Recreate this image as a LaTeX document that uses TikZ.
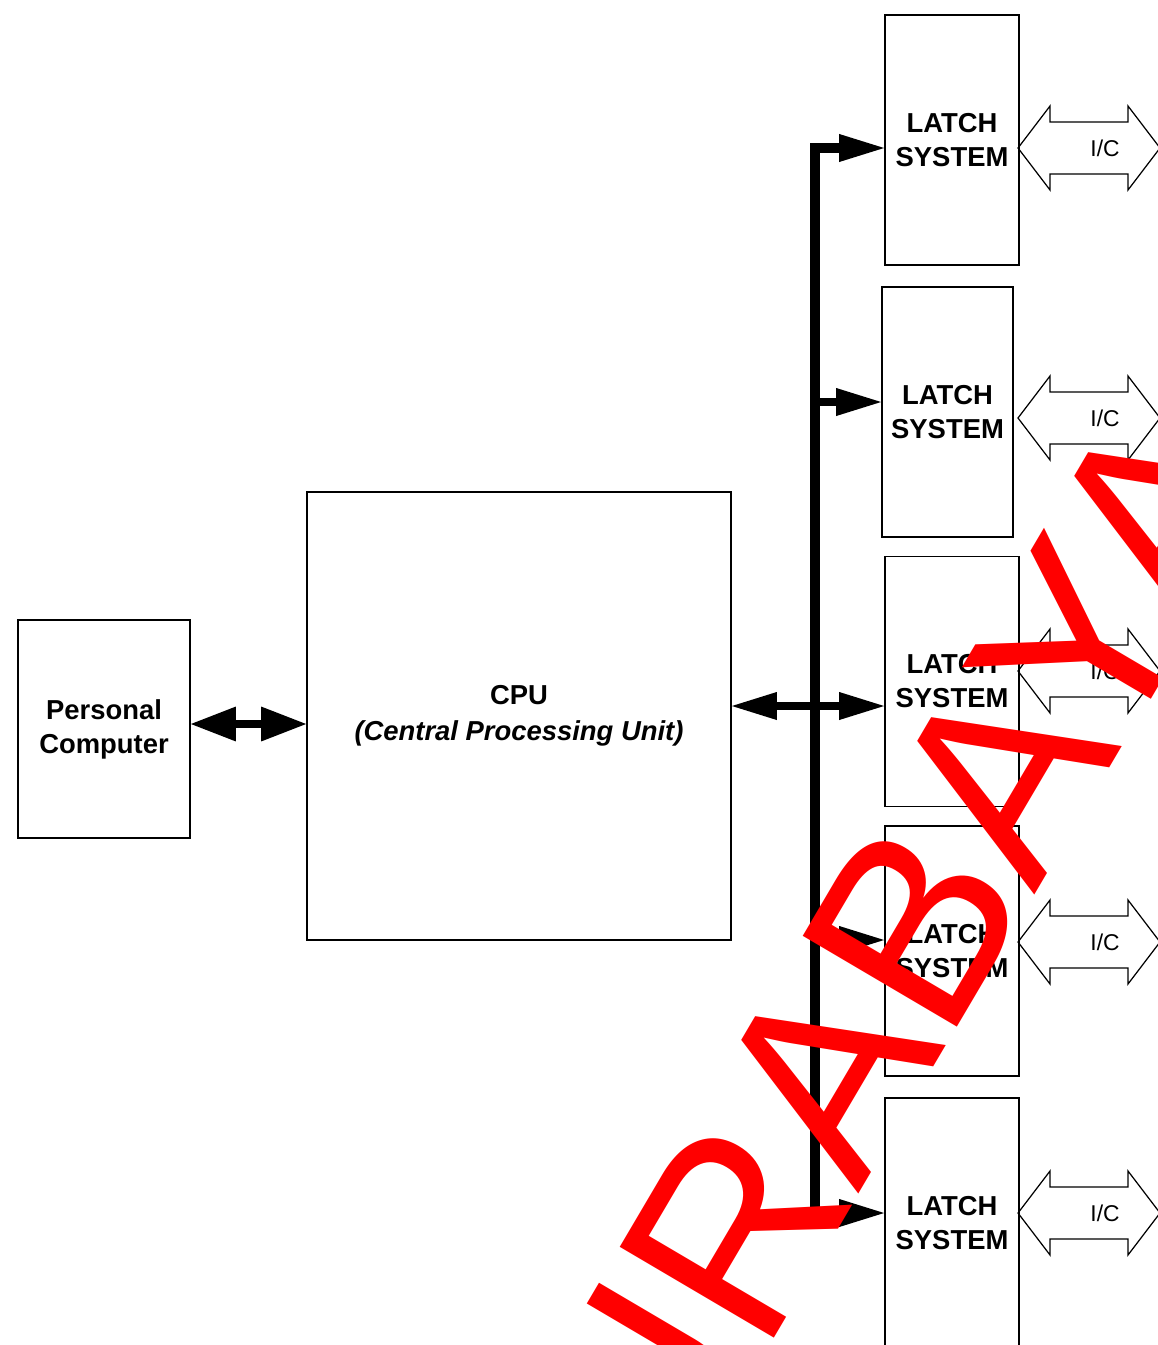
\documentclass[tikz,border=0pt]{standalone}
\usepackage{fontspec}
\setmainfont{Liberation Sans}
\usetikzlibrary{arrows.meta,calc}
\newcommand\lblfont{\bfseries\fontsize{15.6}{19.3}\selectfont}
\newcommand\cpufont{\bfseries\fontsize{15.6}{20.5}\selectfont}
\newcommand\iofont{\fontsize{13}{13}\selectfont}
\newcommand\wmfont{\fontsize{148}{148}\selectfont}
\tikzset{
 htip/.tip={Triangle[length=25.6pt,width=16pt,line width=0pt]},
 ptip/.tip={Triangle[length=25.6pt,width=19.9pt,line width=0pt]},
 box/.style={draw, line width=1.1pt, inner sep=0pt, align=center, font=\lblfont},
 latchbox/.style={box, minimum width=2.68cm, minimum height=5cm},
 busline/.style={line width=5.7pt, line join=miter},
 branch/.style={line width=4.5pt, -htip},
 ioshape/.style={draw, line width=0.7pt, line join=miter},
 iolbl/.style={font=\iofont, inner sep=0pt},
 wm/.style={text=red, font=\wmfont, inner sep=0pt},
}
\begin{document}
\begin{tikzpicture}[x=0.02cm,y=-0.02cm]
\useasboundingbox (0,0) rectangle (1158,1345);
\clip (0,0) rectangle (1158,1345);

% blocks
\node[box, minimum width=3.44cm, minimum height=4.36cm] (pc) at (104,729) {Personal\\Computer};
\node[box, minimum width=8.48cm, minimum height=8.96cm, font=\cpufont] (cpu) at (519,716) {CPU\\\textit{(Central Processing Unit)}};
\node[latchbox] (l1) at (952,140) {LATCH\\SYSTEM};
\node[latchbox, minimum width=2.62cm] (l2) at (947.5,412) {LATCH\\SYSTEM};
\node[latchbox] (l3) at (952,681.5) {LATCH\\SYSTEM};
\node[latchbox] (l4) at (952,951) {LATCH\\SYSTEM};
\node[latchbox] (l5) at (952,1223) {LATCH\\SYSTEM};

% PC <-> CPU
\coordinate (pa) at ([yshift=0.1cm]pc.east);
\draw[line width=4.5pt, ptip-ptip] (pa) -- (pa -| cpu.west);

% CPU <-> latch 3
\coordinate (ca) at ([yshift=0.2cm]cpu.east);
\draw[line width=4.5pt, htip-htip] (ca) -- (ca -| l3.west);

% bus
\coordinate (bt) at (815,148);
\coordinate (bb) at (815,1213);
\draw[busline, htip-htip] (bb -| l5.west) -- (bb) -- (bt) -- (bt -| l1.west);
\coordinate (j2) at (815,402);
\coordinate (j4) at (815,940);
\draw[branch] (j2) -- (j2 -| l2.west);
\draw[branch] (j4) -- (j4 -| l4.west);

% I/O block arrows
\foreach \c/\n in {148/1,418/2,671/3,942/4,1213/5}{
 \draw[ioshape] (1018,\c) -- (1050,{\c-42}) -- (1050,{\c-26}) -- (1128,{\c-26}) -- (1128,{\c-42})
   -- (1160,\c) -- (1128,{\c+42}) -- (1128,{\c+26}) -- (1050,{\c+26}) -- (1050,{\c+42}) -- cycle;
 \node[iolbl] (io\n) at (1105,\c) {I/C};
}

% watermark
\node[wm, rotate=59.5, anchor=base west] (wm) at (580,1668) {SURABAYA};
\end{tikzpicture}
\end{document}
